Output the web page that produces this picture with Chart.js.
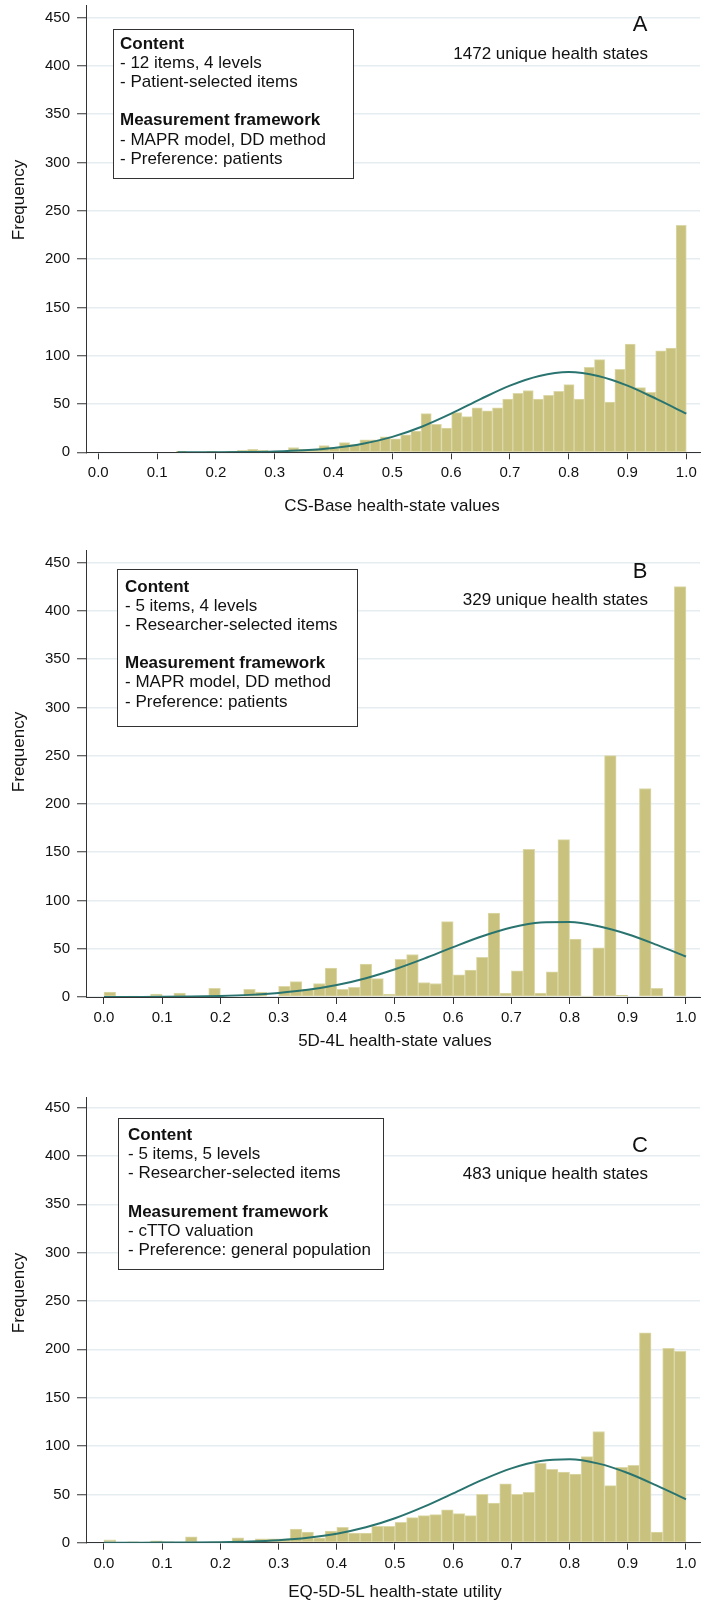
<!DOCTYPE html>
<html>
<head>
<meta charset="utf-8">
<script src="https://cdn.jsdelivr.net/npm/chart.js@4.4.1/dist/chart.umd.min.js"></script>
<style>
  html, body { margin: 0; padding: 0; background: #fff; }
  #page { position: relative; width: 710px; height: 1604px; }
  .panel { position: absolute; left: 0; }
</style>
</head>
<body>
<div id="page">
  <div class="panel" style="top:0px"><canvas id="chartA" width="710" height="540"></canvas></div>
  <div class="panel" style="top:545px"><canvas id="chartB" width="710" height="540"></canvas></div>
  <div class="panel" style="top:1092px"><canvas id="chartC" width="710" height="512"></canvas></div>
</div>
<script>
// tick labels
const xTicks = [0, 0.1, 0.2, 0.3, 0.4, 0.5, 0.6, 0.7, 0.8, 0.9, 1.0];
const yTicks = [0, 50, 100, 150, 200, 250, 300, 350, 400, 450];

// A - CS-Base (50 bins from the lowest value to 1)
const binStartA = 0.1325;
const binWidthA = 0.01735;
const countsA = [1, 0, 0, 1, 0, 1, 2, 3, 2, 1, 1, 5, 3, 3, 7, 4, 10, 8, 13, 13, 16,
  14, 18, 22, 40, 29, 25, 41, 37, 46, 43, 46, 55, 61, 64, 55, 59, 63, 70, 55,
  88, 96, 52, 86, 112, 67, 62, 105, 108, 235];
const curveXA = [0.135, 0.15, 0.2, 0.25, 0.3, 0.35, 0.4, 0.45, 0.5, 0.55, 0.6, 0.65, 0.7, 0.75, 0.8, 0.85, 0.9, 0.95, 1.0];
const curveYA = [0.02, 0.04, 0.1, 0.33, 0.87, 2.1, 4.5, 8.9, 16, 26.5, 40, 55, 69, 79, 83, 79, 69, 55, 40];

// B - 5D-4L (bins of 0.02)
const binStartB = 0;
const binWidthB = 0.02;
const countsB = [5, 0, 1, 0, 3, 0, 4, 0, 0, 9,
  0, 0, 8, 5, 0, 11, 16, 8, 14, 30,
  8, 10, 34, 19, 3, 39, 44, 15, 14, 78,
  23, 28, 41, 87, 4, 27, 153, 4, 26, 163,
  60, 1, 51, 250, 2, 0, 216, 9, 0, 425];

// C - EQ-5D-5L (bins of 0.02)
const binStartC = 0;
const binWidthC = 0.02;
const countsC = [3, 0, 1, 0, 2, 1, 0, 6, 0, 1,
  1, 5, 0, 4, 4, 4, 14, 11, 5, 12,
  16, 10, 10, 17, 17, 21, 26, 28, 29, 34,
  30, 28, 50, 41, 61, 50, 52, 82, 76, 73,
  71, 89, 115, 59, 78, 80, 217, 11, 201, 198];

const curveX = [0, 0.05, 0.1, 0.15, 0.2, 0.25, 0.3, 0.35, 0.4, 0.45, 0.5, 0.55, 0.6, 0.65, 0.7, 0.75, 0.8, 0.85, 0.9, 0.95, 1.0];
const curveYB = [0.03, 0.1, 0.2, 0.5, 1.1, 2.2, 4.2, 7.4, 12.4, 19.5, 28.8, 39.8, 51.7, 62.9, 71.9, 77.1, 77.6, 73.3, 65, 54, 42];
const curveYC = [0.01, 0.03, 0.08, 0.21, 0.53, 1.2, 2.6, 5.1, 9.3, 15.9, 25.3, 37.3, 51.1, 65, 76.9, 84.5, 86.3, 81.8, 72.1, 59, 44.9];

const FONT = "'Liberation Sans', Arial, Helvetica, sans-serif";
Chart.defaults.font.family = FONT;
Chart.defaults.color = '#111';

// boxes, panel letters and axis titles
const annotate = {
  id: 'annotate',
  afterDraw(chart, args, o) {
    const ctx = chart.ctx;
    ctx.save();
    const [bx, by, bw, bh] = o.box;
    ctx.fillStyle = '#fff';
    ctx.fillRect(bx, by, bw, bh);
    ctx.strokeStyle = '#333';
    ctx.lineWidth = 1;
    ctx.strokeRect(bx + 0.5, by + 0.5, bw, bh);

    ctx.fillStyle = '#111';
    ctx.textBaseline = 'middle';
    ctx.textAlign = 'left';
    o.lines.forEach((ln, i) => {
      if (!ln) return;
      const bold = ln === 'Content' || ln === 'Measurement framework';
      ctx.font = (bold ? 'bold ' : '') + '17px ' + FONT;
      ctx.fillText(ln, o.textX, o.textY + i * o.lineStep);
    });

    ctx.textAlign = 'center';
    ctx.font = '22px ' + FONT;
    ctx.fillText(o.letter, 640, o.letterY);

    ctx.textAlign = 'right';
    ctx.font = '17px ' + FONT;
    ctx.fillText(o.states, 648, o.statesY);

    ctx.textAlign = 'center';
    ctx.fillText(o.xTitle, o.xTitleX, o.xTitleY);

    ctx.translate(19, o.freqY);
    ctx.rotate(-Math.PI / 2);
    ctx.fillText('Frequency', 0, 0);
    ctx.restore();
  }
};

function makeChart(id, p) {
  const bars = [];
  p.counts.forEach((c, i) => {
    if (c > 0) bars.push({ x: p.binStart + (i + 0.5) * p.binWidth, y: c });
  });
  const curve = p.curveX.map((x, i) => ({ x: x, y: p.curveY[i] }));
  const canvas = document.getElementById(id);

  return new Chart(canvas.getContext('2d'), {
    type: 'bar',
    data: {
      datasets: [{
        type: 'line',
        data: curve,
        borderColor: '#2a7470',
        borderWidth: 2,
        pointRadius: 0,
        cubicInterpolationMode: 'monotone',
        fill: false,
        order: 0
      }, {
        type: 'bar',
        data: bars,
        backgroundColor: '#c9c27e',
        borderColor: '#dcd8a9',
        borderWidth: 1,
        borderSkipped: false,
        categoryPercentage: 1,
        barPercentage: 1,
        order: 1
      }]
    },
    options: {
      responsive: false,
      animation: false,
      layout: { padding: { top: 5, left: 0, right: 10, bottom: 0 } },
      plugins: {
        legend: { display: false },
        tooltip: { enabled: false },
        annotate: p.annot
      },
      scales: {
        x: {
          type: 'linear',
          min: p.xMin,
          max: p.xMax,
          offset: false,
          grid: { drawOnChartArea: false, drawTicks: true, tickLength: 7, tickColor: '#333', offset: false },
          border: { display: true, color: '#333', width: 1 },
          ticks: {
            font: { size: 15 },
            color: '#111',
            padding: 5,
            maxRotation: 0,
            autoSkip: false,
            callback: v => Number(v).toFixed(1)
          },
          afterBuildTicks: s => { s.ticks = xTicks.map(v => ({ value: v })); },
          afterFit: s => {
            s.height = canvas.height - p.chartBottom;
            s.paddingLeft = 0;
            s.paddingRight = 0;
          }
        },
        y: {
          min: 0,
          max: p.yMax,
          grid: { color: '#e6edf1', lineWidth: 1.5, drawTicks: true, tickLength: 9, tickColor: '#333', tickWidth: 1 },
          border: { display: true, color: '#333', width: 1 },
          ticks: { font: { size: 15 }, color: '#111', padding: 7, autoSkip: false },
          afterBuildTicks: s => { s.ticks = yTicks.map(v => ({ value: v })); },
          afterFit: s => {
            s.width = 86;
            s.paddingTop = 0;
            s.paddingBottom = 0;
          }
        }
      }
    },
    plugins: [annotate]
  });
}

makeChart('chartA', {
  counts: countsA, binStart: binStartA, binWidth: binWidthA,
  curveX: curveXA, curveY: curveYA,
  xMin: -0.0209, xMax: 1.0233, yMax: 463, chartBottom: 452.3,
  annot: {
    box: [113, 29, 240, 149], textX: 120, textY: 44, lineStep: 19.2,
    lines: ['Content', '- 12 items, 4 levels', '- Patient-selected items', '',
      'Measurement framework', '- MAPR model, DD method', '- Preference: patients'],
    letter: 'A', letterY: 25, states: '1472 unique health states', statesY: 54,
    xTitle: 'CS-Base health-state values', xTitleX: 392, xTitleY: 506, freqY: 200
  }
});

makeChart('chartB', {
  counts: countsB, binStart: binStartB, binWidth: binWidthB,
  curveX: curveX, curveY: curveYB,
  xMin: -0.0309, xMax: 1.0241, yMax: 463, chartBottom: 452,
  annot: {
    box: [117, 24, 240, 157], textX: 125, textY: 42.3, lineStep: 19.1,
    lines: ['Content', '- 5 items, 4 levels', '- Researcher-selected items', '',
      'Measurement framework', '- MAPR model, DD method', '- Preference: patients'],
    letter: 'B', letterY: 27, states: '329 unique health states', statesY: 55,
    xTitle: '5D-4L health-state values', xTitleX: 395, xTitleY: 496.5, freqY: 207
  }
});

makeChart('chartC', {
  counts: countsC, binStart: binStartC, binWidth: binWidthC,
  curveX: curveX, curveY: curveYC,
  xMin: -0.0309, xMax: 1.0241, yMax: 461, chartBottom: 450.7,
  annot: {
    box: [118, 26, 265, 151], textX: 128, textY: 43.7, lineStep: 19.05,
    lines: ['Content', '- 5 items, 5 levels', '- Researcher-selected items', '',
      'Measurement framework', '- cTTO valuation', '- Preference: general population'],
    letter: 'C', letterY: 54, states: '483 unique health states', statesY: 82,
    xTitle: 'EQ-5D-5L health-state utility', xTitleX: 395, xTitleY: 500, freqY: 201
  }
});
</script>
</body>
</html>
